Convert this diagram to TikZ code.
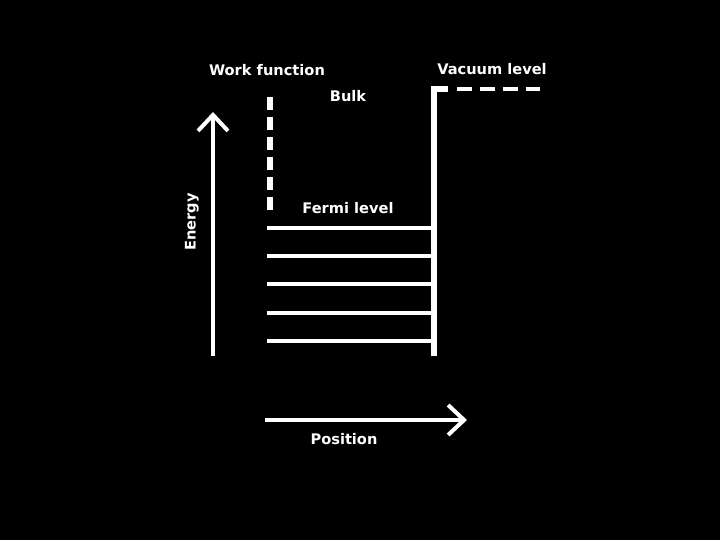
\documentclass[tikz,border=0pt]{standalone}
\usepackage{fontspec}
\setmainfont{DejaVu Sans}
\usepackage{tikz}
\usetikzlibrary{arrows.meta, positioning}

\begin{document}
\begin{tikzpicture}[
  x=0.5pt, y=-0.5pt,
  every node/.style={text=white, font=\fontsize{7.3}{8}\selectfont\bfseries, inner sep=0pt},
  axis/.style={draw=white, line width=2pt, -{Straight Barb[length=8pt, width=15pt, line width=2pt]}},
  level/.style={draw=white, line width=1.8pt},
  wall/.style={draw=white, line width=2.6pt},
  gapline/.style={draw=white, line width=3pt, dash pattern=on 6.5pt off 3.5pt}
]
% background
\fill[black] (0,0) rectangle (720,540);
\useasboundingbox (0,0) rectangle (720,540);

% axes
\coordinate (e0) at (213,356);
\coordinate (e1) at (213,112);
\draw[axis] (e0) -- (e1);
\node[rotate=90] (energy) at (192,222) {Energy};
\coordinate (p0) at (265,420);
\coordinate (p1) at (467,420);
\draw[axis] (p0) -- (p1);
\node (position) at (344,439) {Position};

% labels
\node (work) at (267,70) {Work function};
\node (bulk) at (348,96) {Bulk};
\node (fermi) at (348,208) {Fermi level};
\node (vacuum) at (492,69) {Vacuum level};

% work function gap
\coordinate (w0) at (270,97);
\coordinate (w1) at (270,217);
\draw[gapline] (w0) -- (w1);

% surface and vacuum level
\coordinate (s0) at (434,356);
\coordinate (s1) at (434,89);
\coordinate (s2) at (448,89);
\coordinate (v0) at (457,89);
\coordinate (v1) at (540,89);
\draw[wall] (s0) -- (s1) -- (s2);
\draw[gapline, line width=2.2pt, dash pattern=on 7.5pt off 4pt] (v0) -- (v1);

% filled levels
\foreach \y [count=\i] in {228,256,284,313,341} {
  \coordinate (l\i a) at (267,\y);
  \coordinate (l\i b) at (434,\y);
  \draw[level] (l\i a) -- (l\i b);
}
\end{tikzpicture}
\end{document}
